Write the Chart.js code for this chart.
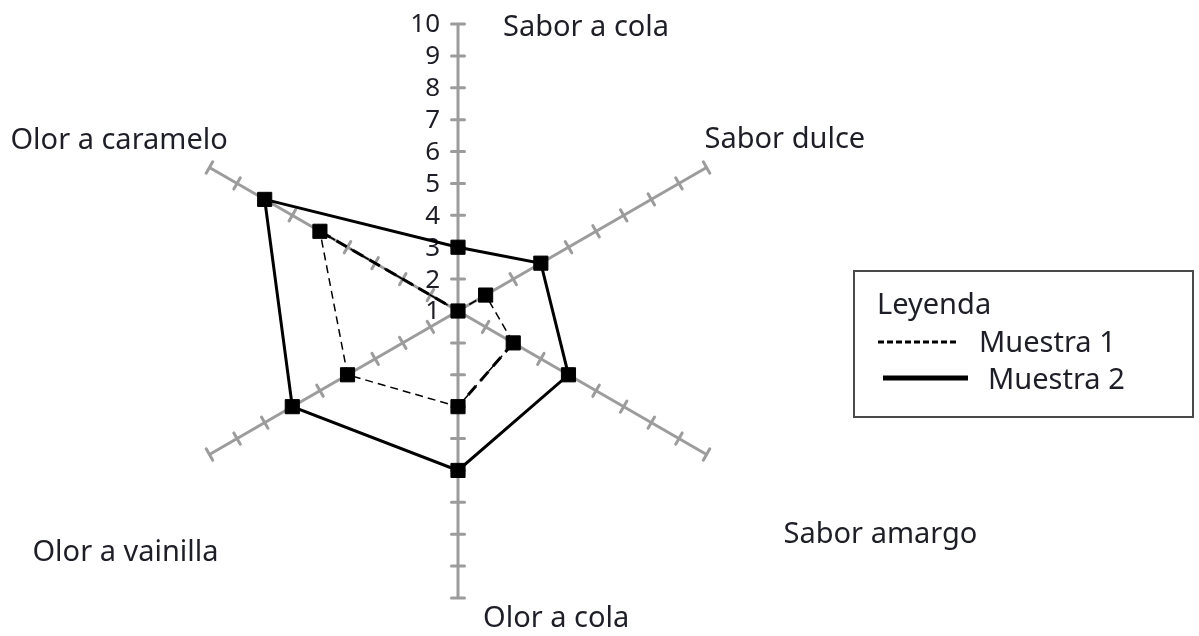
<!DOCTYPE html>
<html>
<head>
<meta charset="utf-8">
<script src="https://cdn.jsdelivr.net/npm/chart.js@4/dist/chart.umd.min.js"></script>
<style>
  html, body { margin: 0; padding: 0; background: #fff; }
  canvas { display: block; }
</style>
</head>
<body>
<canvas id="radar" width="1199" height="636"></canvas>
<script>
// DATA  -----------------------------------------------------------------------
const categories = ['Sabor a cola', 'Sabor dulce', 'Sabor amargo', 'Olor a cola', 'Olor a vainilla', 'Olor a caramelo'];
const muestra1 = [1, 2, 3, 4, 5, 6];
const muestra2 = [3, 4, 5, 6, 7, 8];
const seriesNames = ['Muestra 1', 'Muestra 2'];
const scaleMin = 1;
const scaleMax = 10;
const legendTitle = 'Leyenda';

// LAYOUT / STYLE ---------------------------------------------------------------
const FONT = '"Noto Sans", "Open Sans", sans-serif';
const textColor = '#1e1e28';
const axisColor = '#9c9c9c';

// offsets of each axis name from the outer end of its spoke
const labelOffsets = [[45, 12], [-2, -20], [77, 88], [25, 29], [-177, 106], [-199, -19]];

// the segments of Muestra 1 that look heavier in the original (start index)
const heavySegments = [2, 5];

// draws the small cross ticks on each spoke, the value labels and the axis names
const radarDecor = {
    id: 'radarDecor',
    beforeDatasetsDraw(chart) {
        const scale = chart.scales.r;
        const ctx = chart.ctx;
        ctx.save();

        // tick marks on every spoke
        ctx.strokeStyle = axisColor;
        ctx.lineWidth = 3;
        ctx.lineCap = 'round';
        categories.forEach((c, i) => {
            const a = scale.getIndexAngle(i) - Math.PI / 2;
            const px = -Math.sin(a), py = Math.cos(a);
            scale.ticks.forEach(t => {
                if (t.value === scaleMin) return;
                const p = scale.getPointPositionForValue(i, t.value);
                ctx.beginPath();
                ctx.moveTo(p.x - px * 6.5, p.y - py * 6.5);
                ctx.lineTo(p.x + px * 6.5, p.y + py * 6.5);
                ctx.stroke();
            });
        });

        // value labels on the top spoke, to its left
        ctx.fillStyle = textColor;
        ctx.font = '26px ' + FONT;
        ctx.textAlign = 'right';
        ctx.textBaseline = 'middle';
        scale.ticks.forEach(t => {
            const p = scale.getPointPositionForValue(0, t.value);
            ctx.fillText(String(t.value), p.x - 18, p.y + 1);
        });

        // axis names
        ctx.font = '29px ' + FONT;
        ctx.textAlign = 'left';
        ctx.textBaseline = 'alphabetic';
        categories.forEach((c, i) => {
            const p = scale.getPointPositionForValue(i, scaleMax);
            ctx.fillText(c, p.x + labelOffsets[i][0], p.y + labelOffsets[i][1]);
        });
        ctx.restore();
    },
    // radar controller ignores `segment`, so the heavier dashes are stroked here
    afterDatasetsDraw(chart) {
        const meta = chart.getDatasetMeta(0);
        const pts = meta.data;
        const ctx = chart.ctx;
        ctx.save();
        ctx.strokeStyle = chart.data.datasets[0].borderColor;
        ctx.lineWidth = 3;
        ctx.setLineDash([12, 7]);
        heavySegments.forEach(i => {
            const p0 = pts[i], p1 = pts[(i + 1) % pts.length];
            ctx.beginPath();
            ctx.moveTo(p0.x, p0.y);
            ctx.lineTo(p1.x, p1.y);
            ctx.stroke();
        });
        ctx.restore();
    }
};

// boxed legend like the original
const boxLegend = {
    id: 'boxLegend',
    afterDraw(chart) {
        const ctx = chart.ctx;
        const box = { left: 854, top: 271, right: 1193, bottom: 417 };
        ctx.save();
        ctx.strokeStyle = '#4a4a4a';
        ctx.lineWidth = 2;
        ctx.strokeRect(box.left, box.top, box.right - box.left, box.bottom - box.top);

        ctx.fillStyle = textColor;
        ctx.font = '29px ' + FONT;
        ctx.textAlign = 'left';
        ctx.textBaseline = 'alphabetic';
        ctx.fillText(legendTitle, 877, 314);

        const rows = [
            { x1: 878, x2: 957, y: 342, w: 3, dash: [6, 3], tx: 979, ty: 352 },
            { x1: 883, x2: 968, y: 378, w: 5, dash: [], tx: 988, ty: 389 }
        ];
        chart.data.datasets.forEach((ds, i) => {
            const r = rows[i];
            ctx.strokeStyle = ds.borderColor;
            ctx.lineWidth = r.w;
            ctx.setLineDash(r.dash);
            ctx.beginPath();
            ctx.moveTo(r.x1, r.y);
            ctx.lineTo(r.x2, r.y);
            ctx.stroke();
            ctx.setLineDash([]);
            ctx.fillText(ds.label, r.tx, r.ty);
        });
        ctx.restore();
    }
};

function initializeChart() {
    const canvas = document.getElementById('radar');
    const ctx = canvas.getContext('2d');

    new Chart(ctx, {
        type: 'radar',
        data: {
            labels: categories,
            datasets: [
                {
                    label: seriesNames[0],
                    data: muestra1,
                    borderColor: '#000000',
                    backgroundColor: 'rgba(0,0,0,0)',
                    borderWidth: 1.5,
                    borderDash: [8, 5],
                    fill: false,
                    pointStyle: 'rect',
                    pointRadius: 10,
                    pointBorderWidth: 1,
                    pointBackgroundColor: '#000000',
                    pointBorderColor: '#000000'
                },
                {
                    label: seriesNames[1],
                    data: muestra2,
                    borderColor: '#000000',
                    backgroundColor: 'rgba(0,0,0,0)',
                    borderWidth: 3,
                    fill: false,
                    pointStyle: 'rect',
                    pointRadius: 10,
                    pointBorderWidth: 1,
                    pointBackgroundColor: '#000000',
                    pointBorderColor: '#000000'
                }
            ]
        },
        options: {
            responsive: false,
            animation: false,
            layout: {
                padding: { left: 171, right: 454, top: 24, bottom: 38 }
            },
            elements: {
                line: { tension: 0 }
            },
            scales: {
                r: {
                    min: scaleMin,
                    max: scaleMax,
                    beginAtZero: false,
                    ticks: { stepSize: 1, display: false },
                    grid: { display: false },
                    angleLines: { display: true, color: axisColor, lineWidth: 3 },
                    pointLabels: { display: false }
                }
            },
            plugins: {
                legend: { display: false },
                tooltip: { enabled: false }
            }
        },
        plugins: [radarDecor, boxLegend]
    });
}

initializeChart();
</script>
</body>
</html>
